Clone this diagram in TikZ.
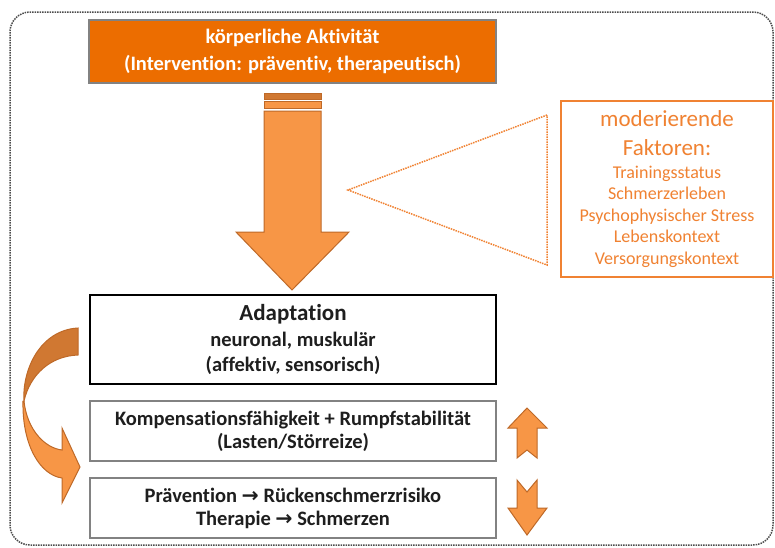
\documentclass[tikz,border=0pt]{standalone}
\usepackage{fontspec}
\setmainfont{Carlito}[Ligatures=NoCommon]
\newfontfamily\symfont{DejaVu Sans}
\usetikzlibrary{positioning}

\definecolor{headorange}{RGB}{236,109,0}
\definecolor{arroworange}{RGB}{247,150,70}
\definecolor{arrowedge}{RGB}{190,105,40}
\definecolor{darkband}{RGB}{208,120,50}
\definecolor{modorange}{RGB}{240,130,50}
\definecolor{boxgray}{RGB}{130,130,130}
\definecolor{textgray}{RGB}{30,30,30}

\newcommand{\pfeil}{{\symfont\bfseries →}}

\begin{document}
\begin{tikzpicture}[x=1pt, y=-1pt,
  headbox/.style={draw=boxgray, line width=1.5pt, fill=headorange, text=white,
    minimum width=407pt, minimum height=63pt, align=center,
    font=\fontsize{20.5}{27}\selectfont\bfseries},
  adaptbox/.style={draw=black, line width=2pt, fill=white, text=textgray,
    minimum width=406pt, minimum height=89pt, align=center,
    font=\fontsize{20.5}{25.5}\selectfont\bfseries},
  effectbox/.style={draw=boxgray, line width=1.5pt, fill=white, text=textgray,
    minimum width=406pt, minimum height=60pt, align=center,
    font=\fontsize{20.5}{23}\selectfont\bfseries},
  modbox/.style={draw=modorange, line width=2pt, fill=white, text=modorange,
    minimum width=212pt, minimum height=176pt, align=center,
    font=\fontsize{18}{21.5}\selectfont},
  blockarrow/.style={fill=arroworange, draw=arrowedge, line width=1pt, line join=miter},
  hint/.style={draw=modorange, line width=1.5pt, densely dotted}]

  % frame
  \draw[densely dotted, line width=1.5pt, draw=black!70, rounded corners=20pt]
    (10,12) rectangle (773,545);
  \useasboundingbox (0,0) rectangle (775,547);

  % boxes
  \node[headbox] (activity) at (292.5,51.5)
    {körperliche Aktivität\\(Intervention: präventiv, therapeutisch)};
  \node[adaptbox] (adapt) at (293,339.5)
    {{\fontsize{23}{25.5}\selectfont Adaptation}\\neuronal, muskulär\\(affektiv, sensorisch)};
  \node[effectbox] (comp) at (293,431)
    {Kompensationsfähigkeit + Rumpfstabilität\\(Lasten/Störreize)};
  \node[effectbox] (prev) at (293,508)
    {Prävention \pfeil{} Rückenschmerzrisiko\\Therapie \pfeil{} Schmerzen};
  \node[modbox] (factors) at (667,189)
    {{\fontsize{23}{29}\selectfont moderierende}\\[7pt]
     {\fontsize{23}{29}\selectfont Faktoren:}\\[1.5pt]
     Trainingsstatus\\Schmerzerleben\\
     Psychophysischer Stress\\Lebenskontext\\Versorgungskontext};

  % big arrow
  \draw[blockarrow, fill=darkband] (264,93) rectangle (321,99);
  \draw[blockarrow] (264,101) rectangle (321,108);
  \draw[blockarrow] (264,111) -- (321,111) -- (321,232) -- (349,232)
    -- (292,290) -- (236,232) -- (264,232) -- cycle;

  % dotted wedge
  \coordinate (apex) at (348,190);
  \coordinate (wtop) at (547,115);
  \coordinate (wbot) at (547,265);
  \draw[hint] (wtop) -- (apex) -- (wbot) -- cycle;

  % curved arrow
  \draw[blockarrow, fill=darkband] (78,328) -- (78,355)
    .. controls (50,356) and (30,375) .. (24,401)
    .. controls (22,370) and (40,330) .. cycle;
  \draw[blockarrow] (23,401) .. controls (22,445) and (40,475) .. (62,478)
    -- (62,503) -- (80,467) -- (62,428) -- (62,450)
    .. controls (45,448) and (27,430) .. (24,401) -- cycle;

  % up / down
  \draw[blockarrow] (527,408) -- (547,428) -- (537,428) -- (537,458) -- (527,450)
    -- (517,458) -- (517,428) -- (508,428) -- cycle;
  \draw[blockarrow] (517,480) -- (527,492) -- (537,480) -- (537,508) -- (547,508)
    -- (527,535) -- (508,508) -- (517,508) -- cycle;
\end{tikzpicture}
\end{document}
